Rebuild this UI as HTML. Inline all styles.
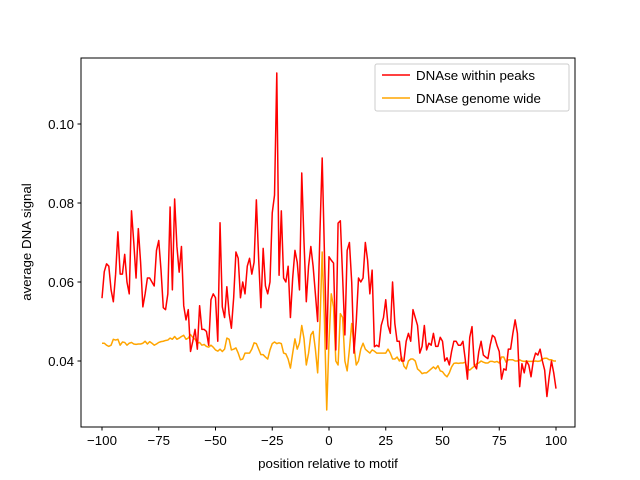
<!DOCTYPE html>
<html><head><meta charset="utf-8"><style>
html,body{margin:0;padding:0;background:#fff;}
svg{display:block;font-family:"Liberation Sans","DejaVu Sans",sans-serif;}
</style></head><body>
<svg id="chart" width="640" height="480" viewBox="0 0 640 480" xmlns="http://www.w3.org/2000/svg">
<rect x="0" y="0" width="640" height="480" fill="#fff"/>
<g id="plot"></g>
<rect x="81" y="58" width="494" height="369" fill="none" stroke="#000" stroke-width="1"/>
<g id="xt"></g>
<g id="yt"></g>
<text x="328" y="468" font-size="13.3" text-anchor="middle">position relative to motif</text>
<text transform="translate(31,242) rotate(-90)" font-size="13.3" text-anchor="middle">average DNA signal</text>
<g>
<rect x="375" y="64" width="194" height="47" rx="2" fill="#fff" fill-opacity="0.8" stroke="#ccc"/>
<line x1="382" y1="75" x2="410" y2="75" stroke="#ff0000" stroke-width="1.5"/>
<text x="416" y="80" font-size="13.3">DNAse within peaks</text>
<line x1="382" y1="98" x2="410" y2="98" stroke="#ffa500" stroke-width="1.5"/>
<text x="416" y="103" font-size="13.3">DNAse genome wide</text>
</g>
</svg>
<script>
const xTicks = [-100, -75, -50, -25, 0, 25, 50, 75, 100];
const yTicks = [0.04, 0.06, 0.08, 0.10];
const yTickLabels = ["0.04", "0.06", "0.08", "0.10"];
const peaksValues = [
0.0559,0.0626,0.0646,0.064,0.058,0.055,0.062,0.0727,0.062,0.062,
0.067,0.060,0.057,0.078,0.070,0.061,0.0735,0.065,0.0537,0.057,
0.061,0.061,0.060,0.059,0.068,0.0705,0.063,0.0535,0.053,0.057,
0.079,0.058,0.081,0.069,0.0625,0.069,0.054,0.0504,0.053,0.0424,
0.045,0.048,0.043,0.054,0.048,0.048,0.0475,0.044,0.0555,0.057,
0.056,0.045,0.075,0.0537,0.051,0.0588,0.052,0.0483,0.056,0.0676,
0.066,0.056,0.060,0.057,0.064,0.066,0.062,0.065,0.0808,0.066,
0.0535,0.0685,0.059,0.057,0.060,0.0775,0.082,0.1129,0.0617,0.078,
0.061,0.060,0.064,0.051,0.061,0.068,0.065,0.058,0.0876,0.070,
0.055,0.064,0.069,0.064,0.057,0.050,0.0724,0.0914,0.067,0.043,
0.0664,0.0655,0.0648,0.0428,0.0749,0.0755,0.0613,0.0466,0.068,0.070,
0.060,0.042,0.050,0.061,0.060,0.061,0.070,0.0655,0.057,0.063,
0.0436,0.044,0.0436,0.049,0.051,0.0555,0.049,0.047,0.060,0.0495,
0.045,0.045,0.040,0.040,0.045,0.047,0.045,0.053,0.051,0.049,
0.042,0.0437,0.049,0.0428,0.0445,0.044,0.047,0.0437,0.0437,0.046,
0.045,0.040,0.0408,0.039,0.0424,0.045,0.045,0.044,0.044,0.045,
0.0405,0.0354,0.046,0.0487,0.039,0.038,0.0424,0.045,0.0415,0.041,
0.0406,0.044,0.0465,0.046,0.044,0.0424,0.0354,0.038,0.0377,0.043,
0.043,0.047,0.0504,0.047,0.0335,0.0393,0.037,0.040,0.039,0.036,
0.040,0.042,0.0415,0.043,0.040,0.0377,0.031,0.036,0.040,0.037,0.033];
const genomeValues = [
0.0445,0.0445,0.044,0.0437,0.044,0.0455,0.0453,0.0455,0.044,0.0448,
0.0447,0.044,0.0445,0.0447,0.0443,0.0442,0.0443,0.0443,0.0445,0.045,
0.0443,0.0449,0.0445,0.044,0.0443,0.0447,0.0449,0.045,0.0452,0.0453,
0.0458,0.0455,0.0462,0.0455,0.0458,0.0462,0.0465,0.0455,0.0458,0.0467,
0.046,0.0455,0.0445,0.0447,0.044,0.0442,0.0437,0.0435,0.044,0.0435,
0.0428,0.0425,0.043,0.0424,0.043,0.0458,0.0455,0.0428,0.043,0.0433,
0.042,0.0403,0.0405,0.042,0.042,0.042,0.043,0.0446,0.0444,0.043,
0.0416,0.0416,0.041,0.0405,0.0428,0.0444,0.0448,0.0444,0.0446,0.0444,
0.042,0.0418,0.0405,0.0382,0.042,0.0456,0.043,0.0446,0.049,0.0456,
0.039,0.042,0.0466,0.0475,0.043,0.037,0.0493,0.0676,0.05,0.0276,
0.045,0.057,0.0537,0.040,0.039,0.052,0.051,0.040,0.0375,0.043,
0.0495,0.044,0.039,0.040,0.043,0.0445,0.043,0.0425,0.042,0.0428,
0.0425,0.042,0.042,0.042,0.042,0.042,0.043,0.042,0.0405,0.0405,
0.041,0.040,0.041,0.0387,0.038,0.040,0.0405,0.0405,0.040,0.038,
0.0375,0.0368,0.037,0.037,0.0375,0.038,0.0385,0.038,0.0388,0.0375,
0.0373,0.0365,0.036,0.037,0.0385,0.0394,0.0395,0.0394,0.0395,0.0395,
0.0397,0.038,0.0377,0.0382,0.0387,0.0393,0.0395,0.040,0.0397,0.0395,
0.0395,0.0399,0.0399,0.0397,0.0399,0.0395,0.041,0.041,0.0397,0.0403,
0.0403,0.0403,0.040,0.040,0.0403,0.040,0.0399,0.040,0.0399,0.0399,
0.0399,0.040,0.0399,0.040,0.0405,0.0407,0.0407,0.0403,0.0403,0.040,0.040];
const xStart = -100;

const NS = "http://www.w3.org/2000/svg";
function xs(u){ return 102 + (u + 100) * 2.27; }
function ys(v){ return 361 - (v - 0.04) * 3950; }

const plot = document.getElementById('plot');
function drawSeries(vals, color, name){
  const pts = vals.map((v,i) => xs(xStart + i).toFixed(2) + ',' + ys(v).toFixed(2)).join(' ');
  const pl = document.createElementNS(NS, 'polyline');
  pl.setAttribute('points', pts);
  pl.setAttribute('fill', 'none');
  pl.setAttribute('stroke', color);
  pl.setAttribute('stroke-width', '1.5');
  pl.setAttribute('stroke-linejoin', 'round');
  
  
  plot.appendChild(pl);
}
drawSeries(genomeValues, '#ffa500', 'line-genome-wide');
drawSeries(peaksValues, '#ff0000', 'line-within-peaks');

const xt = document.getElementById('xt');
xTicks.forEach(t => {
  const x = xs(t);
  const l = document.createElementNS(NS, 'line');
  l.setAttribute('x1', x); l.setAttribute('x2', x);
  l.setAttribute('y1', 427); l.setAttribute('y2', 430.5);
  l.setAttribute('stroke', '#000');
  
  
  xt.appendChild(l);
  const tx = document.createElementNS(NS, 'text');
  tx.setAttribute('x', x); tx.setAttribute('y', 445);
  tx.setAttribute('font-size', '13.3');
  tx.setAttribute('text-anchor', 'middle');
  tx.textContent = (t < 0 ? '\u2212' + Math.abs(t) : String(t));
  
  
  xt.appendChild(tx);
});
const yt = document.getElementById('yt');
yTicks.forEach((t, i) => {
  const y = ys(t);
  const l = document.createElementNS(NS, 'line');
  l.setAttribute('x1', 77.5); l.setAttribute('x2', 81);
  l.setAttribute('y1', y); l.setAttribute('y2', y);
  l.setAttribute('stroke', '#000');
  
  
  yt.appendChild(l);
  const tx = document.createElementNS(NS, 'text');
  tx.setAttribute('x', 74); tx.setAttribute('y', y + 5);
  tx.setAttribute('font-size', '13.3');
  tx.setAttribute('text-anchor', 'end');
  tx.textContent = yTickLabels[i];
  
  
  yt.appendChild(tx);
});
</script>
</body></html>
